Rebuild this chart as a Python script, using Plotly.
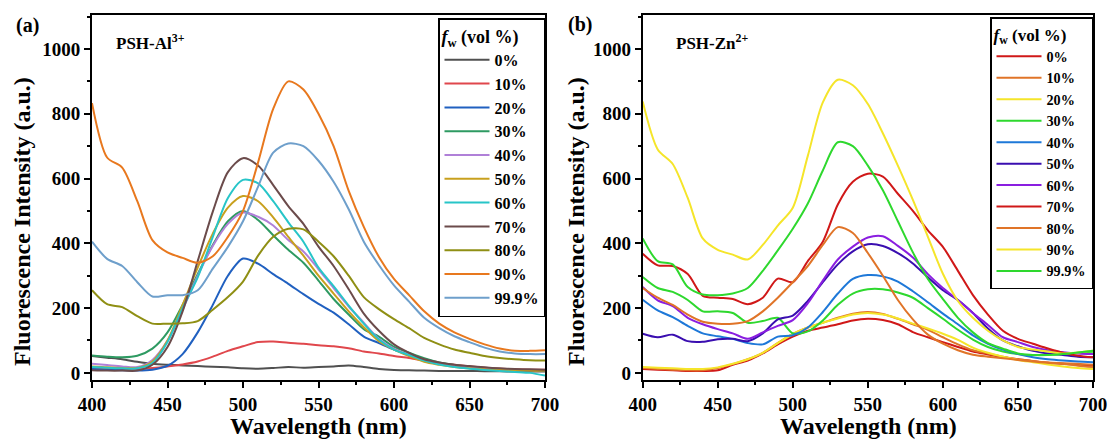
import plotly.graph_objects as go

wavelength = list(range(400, 701, 10))
labels = ["0%", "10%", "20%", "30%", "40%", "50%", "60%", "70%", "80%", "90%", "99.9%"]

# Panel (a) PSH-Al3+
al_0 = [52, 47, 42, 34, 28, 25, 23, 21, 19, 17, 14, 13, 15, 18, 16, 18, 20, 23, 18, 12, 9, 8, 7, 6, 6, 6, 5, 5, 4, 4, 4]
al_10 = [12, 12, 12, 12, 15, 20, 26, 35, 50, 68, 82, 95, 97, 93, 90, 85, 82, 76, 66, 60, 52, 46, 38, 30, 25, 20, 16, 13, 11, 10, 10]
al_20 = [12, 10, 8, 7, 10, 22, 58, 125, 210, 300, 353, 337, 305, 275, 243, 213, 186, 150, 112, 92, 72, 55, 38, 28, 20, 15, 12, 10, 9, 8, 8]
al_30 = [54, 50, 48, 53, 75, 125, 210, 305, 395, 468, 500, 472, 425, 380, 340, 285, 228, 180, 135, 112, 80, 62, 45, 32, 24, 18, 14, 11, 9, 8, 8]
al_40 = [28, 24, 20, 18, 40, 100, 195, 300, 392, 460, 495, 482, 455, 410, 375, 320, 262, 205, 155, 105, 75, 55, 38, 28, 21, 17, 13, 11, 9, 8, 8]
al_50 = [20, 17, 15, 15, 35, 100, 210, 325, 430, 510, 546, 530, 480, 420, 362, 300, 245, 190, 141, 98, 72, 52, 34, 25, 18, 14, 11, 9, 8, 7, 7]
al_60 = [18, 16, 14, 14, 30, 95, 200, 295, 420, 540, 596, 585, 530, 465, 405, 325, 268, 208, 152, 103, 72, 55, 38, 26, 18, 13, 9, 6, 3, 0, -8]
al_70 = [8, 7, 7, 7, 25, 80, 190, 345, 498, 620, 663, 640, 580, 515, 460, 390, 330, 258, 183, 130, 88, 62, 42, 32, 25, 21, 17, 14, 12, 11, 10]
al_80 = [255, 212, 203, 175, 152, 152, 153, 160, 195, 234, 282, 362, 420, 445, 443, 405, 360, 300, 234, 197, 166, 138, 108, 88, 72, 62, 52, 46, 42, 39, 38]
al_90 = [833, 665, 634, 530, 410, 372, 355, 340, 360, 420, 500, 650, 815, 900, 875, 800, 700, 562, 451, 358, 290, 240, 190, 152, 125, 105, 88, 75, 68, 68, 70]
al_999 = [405, 352, 330, 280, 236, 240, 240, 255, 322, 389, 468, 575, 680, 708, 700, 655, 590, 505, 405, 333, 270, 220, 170, 138, 113, 95, 78, 66, 60, 58, 58]

# Panel (b) PSH-Zn2+
zn_0 = [12, 10, 8, 6, 6, 8, 25, 38, 60, 88, 112, 130, 140, 150, 162, 167, 163, 150, 126, 110, 95, 80, 66, 57, 48, 42, 36, 31, 28, 25, 22]
zn_10 = [15, 12, 10, 8, 8, 15, 27, 42, 62, 92, 120, 140, 155, 170, 183, 188, 182, 167, 150, 133, 110, 88, 70, 60, 50, 42, 37, 32, 30, 28, 25]
zn_20 = [18, 16, 14, 12, 12, 17, 28, 42, 62, 92, 120, 140, 155, 168, 180, 185, 180, 168, 152, 137, 121, 102, 78, 62, 50, 40, 33, 26, 20, 15, 12]
zn_30 = [296, 262, 250, 225, 190, 190, 185, 155, 160, 170, 122, 128, 162, 210, 245, 258, 258, 248, 232, 200, 167, 133, 103, 80, 66, 58, 55, 56, 58, 62, 65]
zn_40 = [226, 193, 172, 145, 122, 113, 105, 92, 88, 112, 116, 140, 188, 245, 290, 302, 298, 282, 252, 218, 183, 150, 116, 90, 72, 58, 48, 42, 38, 35, 33]
zn_50 = [121, 110, 118, 98, 96, 104, 105, 98, 122, 165, 177, 222, 280, 335, 375, 397, 392, 370, 338, 295, 255, 225, 185, 137, 100, 82, 68, 60, 55, 50, 48]
zn_60 = [265, 224, 206, 170, 150, 135, 122, 105, 125, 145, 163, 215, 285, 350, 390, 418, 422, 392, 356, 305, 262, 225, 185, 148, 110, 95, 80, 70, 64, 60, 58]
zn_70 = [368, 332, 330, 305, 238, 232, 228, 212, 232, 291, 280, 345, 405, 520, 590, 615, 606, 553, 500, 440, 389, 315, 240, 180, 130, 105, 90, 75, 62, 53, 48]
zn_80 = [262, 232, 210, 180, 158, 152, 152, 160, 190, 232, 280, 330, 395, 450, 432, 370, 300, 225, 165, 118, 90, 70, 56, 50, 45, 40, 35, 31, 28, 22, 18]
zn_90 = [838, 690, 645, 540, 415, 380, 365, 350, 395, 455, 510, 670, 835, 905, 888, 830, 740, 640, 534, 420, 306, 222, 170, 130, 100, 80, 72, 66, 60, 63, 68]
zn_999 = [415, 345, 335, 265, 242, 240, 245, 262, 315, 378, 445, 523, 625, 712, 700, 640, 564, 468, 372, 290, 228, 170, 125, 92, 75, 60, 55, 55, 58, 63, 68]

al_series = [al_0, al_10, al_20, al_30, al_40, al_50, al_60, al_70, al_80, al_90, al_999]
zn_series = [zn_0, zn_10, zn_20, zn_30, zn_40, zn_50, zn_60, zn_70, zn_80, zn_90, zn_999]

al_colors = ["#505050", "#e0474c", "#2060c0", "#2e9a62", "#b080d8", "#c8a01e",
             "#27c5c8", "#6b4b4b", "#8f8f14", "#e8781e", "#6e9fcb"]
zn_colors = ["#d01818", "#e07428", "#f5e52a", "#2ed82e", "#1e78d8", "#3a0eb0",
             "#8a1ee0", "#d01818", "#e07428", "#f5e52a", "#2ed82e"]

F = "Liberation Serif"
W, H = 1113, 445

fig = go.Figure()
for lab, ys, c in zip(labels, al_series, al_colors):
    fig.add_trace(go.Scatter(x=wavelength, y=ys, name=lab, mode="lines",
                             line=dict(color=c, width=2, shape="spline", smoothing=0.8),
                             xaxis="x", yaxis="y", legend="legend"))
for lab, ys, c in zip(labels, zn_series, zn_colors):
    fig.add_trace(go.Scatter(x=wavelength, y=ys, name=lab, mode="lines",
                             line=dict(color=c, width=2, shape="spline", smoothing=0.8),
                             xaxis="x2", yaxis="y2", legend="legend2"))

def xax(dom, anchor):
    return dict(domain=dom, anchor=anchor, range=[400, 700], tick0=400, dtick=50,
                showline=True, linecolor="black", linewidth=2, mirror=True,
                ticks="outside", ticklen=6, tickwidth=2, tickcolor="black",
                minor=dict(ticks="outside", ticklen=3, tickwidth=1.5, dtick=25, tickcolor="black"),
                showgrid=False, zeroline=False, automargin=False,
                tickfont=dict(family=F, size=19, color="black", weight="bold"))

def yax(anchor):
    return dict(domain=[1 - 380 / H, 1 - 15 / H], anchor=anchor, range=[-22, 1105], tick0=0, dtick=200,
                showline=True, linecolor="black", linewidth=2, mirror=True,
                ticks="outside", ticklen=6, tickwidth=2, tickcolor="black",
                minor=dict(ticks="outside", ticklen=3, tickwidth=1.5, dtick=100, tickcolor="black"),
                showgrid=False, zeroline=False, automargin=False,
                tickfont=dict(family=F, size=19, color="black", weight="bold"))

def leg(xr, yt, fs, ts):
    return dict(x=xr / W, xanchor="right", y=1 - yt / H, yanchor="top",
                bordercolor="black", borderwidth=1.5, bgcolor="white",
                font=dict(family=F, size=fs, color="black", weight="bold"),
                title=dict(text="<i>f</i><sub>w</sub> (vol %)",
                           font=dict(family=F, size=ts, color="black", weight="bold")),
                tracegroupgap=0, itemwidth=45)

ann = []
def txt(t, x, y, size, angle=0, xanchor="center"):
    ann.append(dict(text=t, x=x / W, y=1 - y / H, xref="paper", yref="paper",
                    showarrow=False, textangle=angle, xanchor=xanchor, yanchor="middle",
                    font=dict(family=F, size=size, color="black", weight="bold")))

txt("(a)", 27, 25, 20)
txt("(b)", 580, 24, 20)
txt("PSH-Al<sup>3+</sup>", 114, 42, 17, xanchor="left")
txt("PSH-Zn<sup>2+</sup>", 674, 42, 17, xanchor="left")
txt("Fluorescence Intensity (a.u.)", 22, 222, 24, angle=-90)
txt("Fluorescence Intensity (a.u.)", 576, 222, 24, angle=-90)
txt("Wavelength (nm)", 318.5, 426, 24)
txt("Wavelength (nm)", 868, 426, 24)

fig.update_layout(
    width=W, height=H, autosize=False,
    margin=dict(l=0, r=0, t=0, b=0, pad=0, autoexpand=False),
    paper_bgcolor="white", plot_bgcolor="white",
    xaxis=xax([92 / W, 545 / W], "y"),
    yaxis=yax("x"),
    xaxis2=xax([642.7 / W, 1093 / W], "y2"),
    yaxis2=yax("x2"),
    legend=leg(545, 18, 16, 18),
    legend2=leg(1093, 17, 14.2, 17),
    annotations=ann,
    showlegend=True,
)

fig.write_html("out.html", config={"displayModeBar": False},
               post_script="document.body.style.margin='0';document.body.style.overflow='hidden';")
